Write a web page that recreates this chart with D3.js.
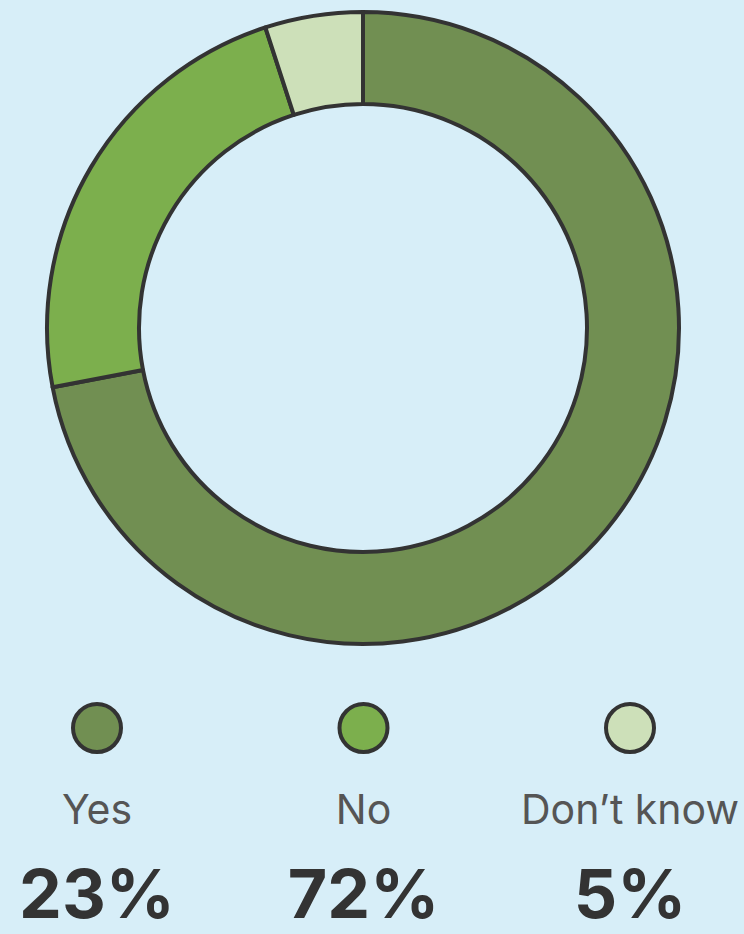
<!DOCTYPE html>
<meta charset="utf-8">
<head>
<style>
body { margin: 0; background: #d7eef8; }
svg { display: block; }
.label { font-family: Inter, Roboto, sans-serif; font-size: 41px; fill: #555; font-weight: 400; }
.pct { font-family: Inter, Roboto, sans-serif; font-size: 68px; fill: #333; font-weight: 700; }
</style>
</head>
<body>
<div id="chart"></div>
<script src="https://d3js.org/d3.v7.min.js"></script>
<script>
// legend categories and the numbers printed under them
var categories = ["Yes", "No", "Don\u2019t know"];
var legendValues = [23, 72, 5];
var colors = ["#718f52", "#7caf4d", "#cde0b9"];
// arc sizes as drawn in the ring (clockwise from 12 o'clock)
var arcValues = [72, 23, 5];

var width = 744, height = 934;
var cx = 363, cy = 328;

var svg = d3.select("#chart").append("svg")
  .attr("width", width)
  .attr("height", height);

var pie = d3.pie().sort(null).value(function(d) { return d; });
var arc = d3.arc().innerRadius(224).outerRadius(316);

svg.append("g")
  .attr("transform", "translate(" + cx + "," + cy + ")")
  .selectAll("path")
  .data(pie(arcValues))
  .enter()
  .append("path")
    .attr("d", arc)
    .attr("fill", function(d, i) { return colors[i]; })
    .attr("stroke", "#333")
    .attr("stroke-width", 4)
    .attr("stroke-linejoin", "round");

// legend
var x = d3.scalePoint().domain(categories).range([97, 630]);

var legend = svg.selectAll(".legend")
  .data(categories)
  .enter()
  .append("g")
  .attr("class", "legend")
  .attr("transform", function(d) { return "translate(" + x(d) + ",0)"; });

legend.append("circle")
  .attr("cy", 728)
  .attr("r", 24)
  .attr("fill", function(d, i) { return colors[i]; })
  .attr("stroke", "#333")
  .attr("stroke-width", 4);

legend.append("text")
  .attr("class", "label")
  .attr("y", 824)
  .attr("text-anchor", "middle")
  .text(function(d) { return d; });

legend.append("text")
  .attr("class", "pct")
  .attr("y", 918)
  .attr("text-anchor", "middle")
  .text(function(d, i) { return legendValues[i] + "%"; });
</script>
</body>
